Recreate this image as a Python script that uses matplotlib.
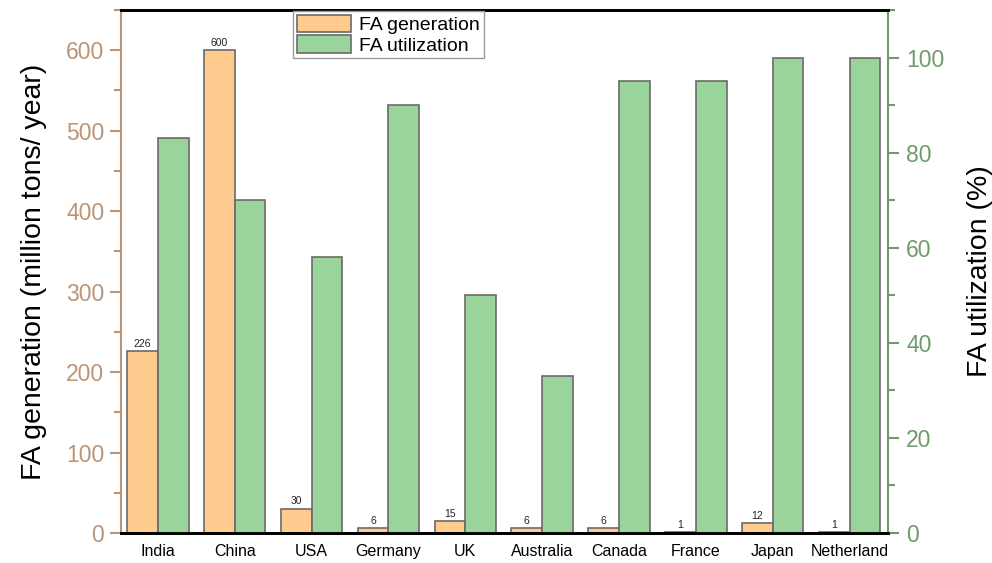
import matplotlib
matplotlib.use("Agg")
import matplotlib.pyplot as plt
import numpy as np
from matplotlib.ticker import MultipleLocator

plt.rcParams['font.family'] = ['Liberation Sans', 'DejaVu Sans']

countries = ["India", "China", "USA", "Germany", "UK", "Australia",
             "Canada", "France", "Japan", "Netherland"]
generation = [226, 600, 30, 6, 15, 6, 6, 1, 12, 1]          # million tons / year
utilization = [83, 70, 58, 90, 50, 33, 95, 95, 100, 100]    # percent

orange = "#FFCB8F"
green = "#9BD49A"
edge = "#6a6a6a"
tan = "#BC9373"
sage = "#6E9A6C"

fig = plt.figure(figsize=(9.92, 5.63), dpi=100)
ax1 = fig.add_axes([121/992, 1 - 533/563, (888 - 121)/992, (533 - 10)/563])
ax2 = ax1.twinx()

x = np.arange(len(countries))
w = 0.4
b1 = ax1.bar(x - w/2, generation, width=w, color=orange, edgecolor=edge,
             linewidth=1.2, label="FA generation", zorder=2)
b2 = ax2.bar(x + w/2, utilization, width=w, color=green, edgecolor=edge,
             linewidth=1.2, label="FA utilization", zorder=2)

for xi, v in zip(x - w/2, generation):
    ax1.text(xi, v + 3, f"{v}", ha="center", va="bottom", fontsize=7.5, color="#222222")

ax1.set_xlim(-0.48, 9.5)
ax1.set_ylim(0, 650)
ax2.set_ylim(0, 110)

ax1.set_xticks(x)
ax1.set_xticklabels(countries, fontsize=11.5)
ax1.tick_params(axis="x", length=0, pad=8)

ax1.yaxis.set_major_locator(MultipleLocator(100))
ax1.yaxis.set_minor_locator(MultipleLocator(50))
ax2.yaxis.set_major_locator(MultipleLocator(20))
ax2.yaxis.set_minor_locator(MultipleLocator(10))

ax1.tick_params(axis="y", which="major", length=8, width=1.5, color=tan,
                labelcolor=tan, labelsize=16.5, pad=4)
ax1.tick_params(axis="y", which="minor", length=5, width=1.5, color=tan)
ax2.tick_params(axis="y", which="major", length=8, width=1.5, color=sage,
                labelcolor=sage, labelsize=16.5, pad=5)
ax2.tick_params(axis="y", which="minor", length=5, width=1.5, color=sage)

for ax in (ax1, ax2):
    ax.spines["top"].set_color("black")
    ax.spines["top"].set_linewidth(2)
    ax.spines["bottom"].set_color("black")
    ax.spines["bottom"].set_linewidth(2)
ax1.spines["left"].set_color(tan)
ax1.spines["left"].set_linewidth(1.5)
ax2.spines["left"].set_visible(False)
ax2.spines["right"].set_color(sage)
ax2.spines["right"].set_linewidth(1.5)
ax1.spines["right"].set_visible(False)

ax1.set_ylabel("FA generation (million tons/ year)", fontsize=20.5, color="black", labelpad=14)
ax2.set_ylabel("FA utilization (%)", fontsize=20.5, color="black", labelpad=16)

handles = [b1, b2]
leg = fig.legend(handles, ["FA generation", "FA utilization"],
                 loc="upper left", bbox_to_anchor=(293/992, 1 - 11/563),
                 fontsize=14, frameon=True, fancybox=False, edgecolor="#999999",
                 framealpha=1, borderpad=0.2, handlelength=2.8, handleheight=1.0,
                 handletextpad=0.4, labelspacing=0.05, borderaxespad=0)
leg.get_frame().set_linewidth(1.0)

fig.savefig("out.png", dpi=100)
